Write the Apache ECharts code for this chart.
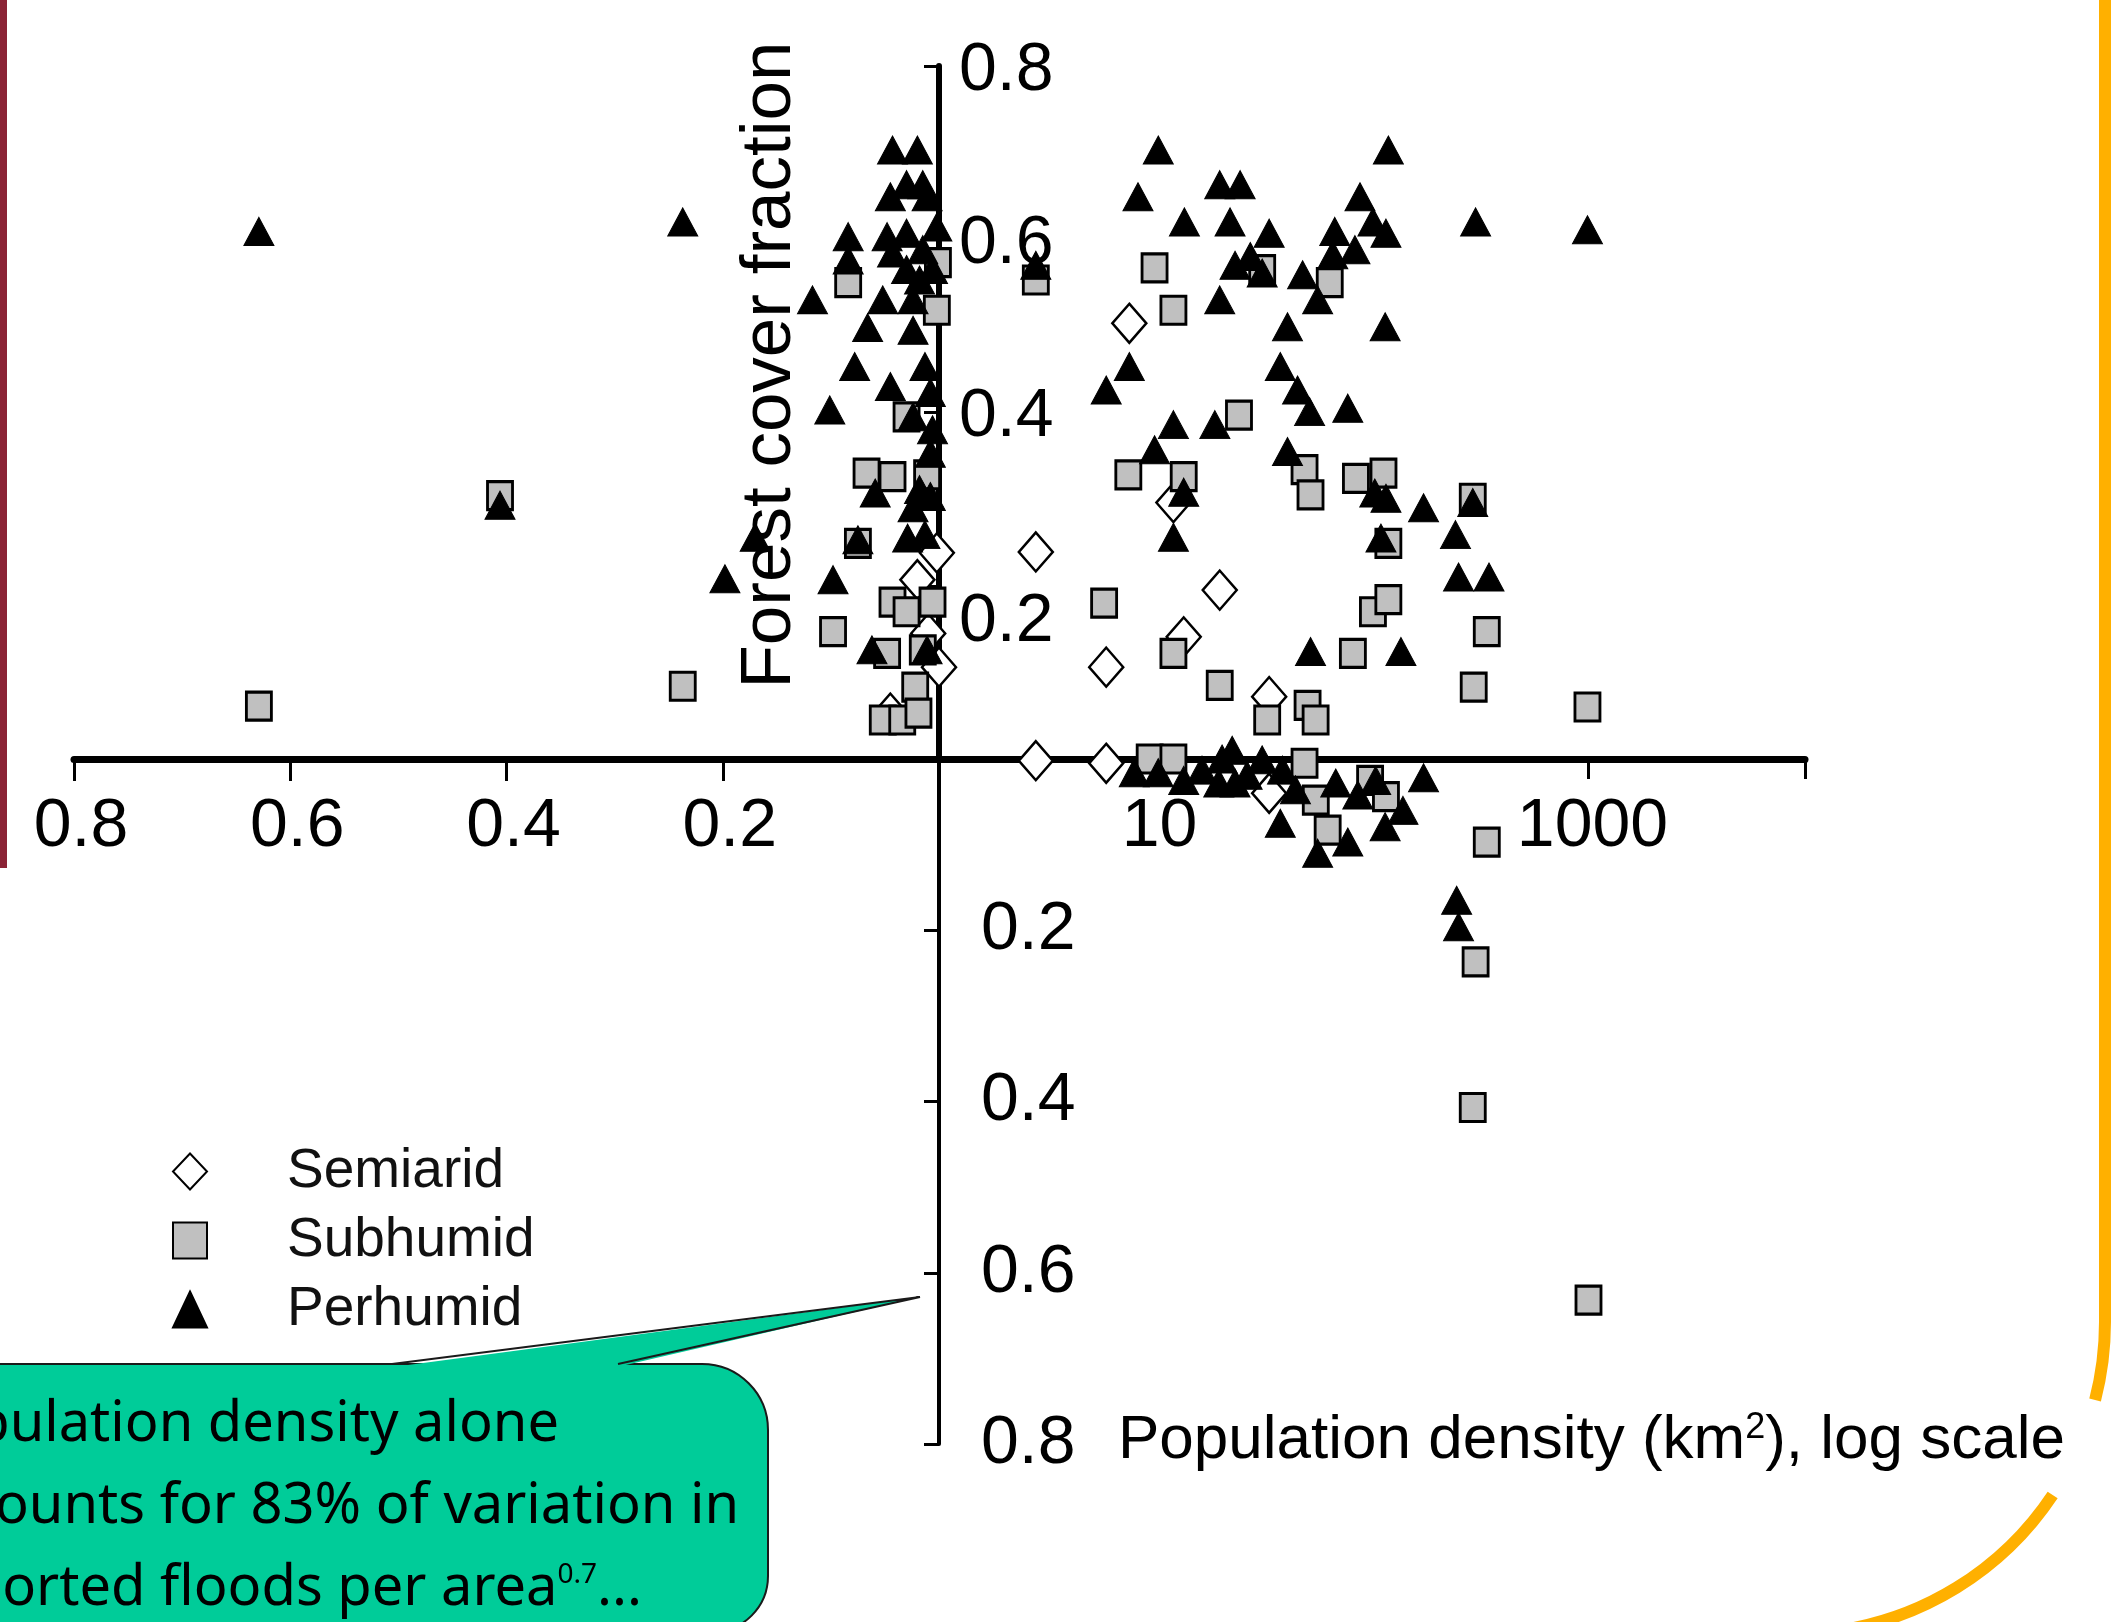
<!DOCTYPE html>
<html>
<head>
<meta charset="utf-8">
<script src="https://cdn.jsdelivr.net/npm/echarts@6/dist/echarts.min.js"></script>
<style>
html,body{margin:0;padding:0;background:#fff;}
#c{width:2112px;height:1622px;}
</style>
</head>
<body>
<div id="c"></div>
<script>
// ---------- DATA ----------
// Upper-left quadrant: [left-axis value, forest cover fraction]
const ulSemiarid = [[0.002,0.238],[0.020,0.207],[0.010,0.145],[0.000,0.106],[0.045,0.053]];
const ulSubhumid = [[0.629,0.061],[0.237,0.084],[0.406,0.304],[0.084,0.550],[0.001,0.573],[0.002,0.518],[0.030,0.395],[0.067,0.330],[0.043,0.326],[0.011,0.328],[0.075,0.249],[0.043,0.181],[0.030,0.170],[0.006,0.181],[0.098,0.147],[0.048,0.122],[0.015,0.126],[0.022,0.083],[0.052,0.045],[0.034,0.045],[0.019,0.053]];
const ulPerhumid = [[0.629,0.609],[0.237,0.620],[0.406,0.293],[0.198,0.208],[0.170,0.256],[0.043,0.703],[0.020,0.703],[0.045,0.649],[0.030,0.663],[0.015,0.663],[0.011,0.649],[0.084,0.603],[0.084,0.576],[0.048,0.603],[0.030,0.607],[0.002,0.614],[0.015,0.588],[0.043,0.584],[0.030,0.565],[0.006,0.565],[0.018,0.553],[0.117,0.530],[0.052,0.530],[0.024,0.530],[0.066,0.498],[0.024,0.495],[0.078,0.453],[0.013,0.453],[0.045,0.430],[0.101,0.403],[0.008,0.423],[0.024,0.395],[0.006,0.380],[0.008,0.353],[0.059,0.307],[0.018,0.311],[0.024,0.290],[0.008,0.303],[0.029,0.255],[0.013,0.259],[0.075,0.253],[0.098,0.207],[0.062,0.126],[0.011,0.126]];
// Upper-right quadrant: [population density, forest cover fraction]
const urSemiarid = [[2.8,0.239],[7.57,0.503],[12.1,0.296],[19.8,0.195],[13.5,0.141],[5.92,0.106],[33.5,0.072]];
const urSubhumid = [[2.8,0.553],[9.9,0.567],[12.1,0.518],[63.8,0.550],[31.1,0.565],[24.3,0.397],[7.49,0.328],[13.5,0.326],[48.8,0.334],[52,0.305],[84.3,0.324],[113,0.330],[119,0.249],[5.79,0.180],[101,0.170],[119,0.184],[12.1,0.122],[81.6,0.122],[19.8,0.085],[32.8,0.045],[50.4,0.062],[54.9,0.045],[292,0.301],[339,0.147],[295,0.083],[989,0.060]];
const urPerhumid = [[2.8,0.570],[10.3,0.703],[119,0.703],[8.3,0.649],[19.8,0.663],[24.6,0.663],[88,0.649],[13.6,0.620],[22.1,0.620],[33.5,0.607],[67.3,0.609],[101,0.620],[116,0.607],[83.4,0.588],[23.3,0.570],[27.4,0.580],[31.1,0.561],[65.9,0.582],[47.8,0.559],[19.8,0.530],[56.1,0.530],[40.7,0.499],[115,0.499],[301,0.620],[989,0.611],[7.57,0.453],[5.92,0.426],[37.7,0.453],[45.3,0.426],[51.5,0.401],[77.3,0.405],[12.1,0.386],[18.8,0.386],[9.9,0.357],[40.7,0.355],[13.5,0.308],[103,0.307],[12.1,0.256],[173,0.290],[110,0.255],[243,0.259],[292,0.296],[251,0.210],[347,0.210],[52.0,0.124],[136,0.124],[116,0.301],[22.6,0.010]];
// Lower-right quadrant: [population density, lower-axis value]
const lrSemiarid = [[2.8,0.002],[5.92,0.005],[33.5,0.040]];
const lrSubhumid = [[9.4,0.0],[12.1,0.0],[48.8,0.005],[55,0.048],[62.4,0.083],[98,0.025],[116,0.044],[339,0.097],[301,0.237],[292,0.407],[1000,0.632]];
const lrPerhumid = [[7.98,0.016],[10.3,0.016],[13.5,0.025],[20.3,0.0],[19.6,0.028],[23.3,0.028],[31.1,0.001],[38.6,0.013],[44.3,0.036],[37.7,0.075],[68,0.028],[56.1,0.110],[77.3,0.097],[104,0.025],[139,0.060],[115,0.079],[173,0.022],[246,0.165],[251,0.196],[16.4,0.013],[26.5,0.019],[86,0.042]];

// Tick values / labels
const leftTicks = [0.2, 0.4, 0.6, 0.8];
const popTicks = [10, 1000, 10000];
const popLabels = [10, 1000];
const yTicks = [0.2, 0.4, 0.6, 0.8];
const classNames = ['Semiarid', 'Subhumid', 'Perhumid'];

// ---------- CHART ----------
const FONT = '"Liberation Sans", Arial, sans-serif';
const NOTO = '"Noto Sans", sans-serif';
const chart = echarts.init(document.getElementById('c'), null, {renderer: 'canvas'});

const styles = {
  Semiarid: {symbol: 'diamond', symbolSize: [34, 39], itemStyle: {color: '#ffffff', borderColor: '#000', borderWidth: 2.5, opacity: 1}},
  Subhumid: {symbol: 'rect', symbolSize: [25, 28], itemStyle: {color: '#c0c0c0', borderColor: '#000', borderWidth: 3, opacity: 1}},
  Perhumid: {symbol: 'triangle', symbolSize: [30, 28], itemStyle: {color: '#000', borderColor: '#000', borderWidth: 1, opacity: 1}}
};
function mk(name, data, gi) {
  const s = styles[name];
  return {
    type: 'scatter', name: name, data: data, xAxisIndex: gi, yAxisIndex: gi,
    clip: false, silent: true, symbol: s.symbol, symbolSize: s.symbolSize,
    itemStyle: s.itemStyle, emphasis: {disabled: true}
  };
}

const lbl = {fontSize: 68, fontFamily: FONT, color: '#000'};
const axLine = (w) => ({show: true, onZero: false, lineStyle: {color: '#000', width: w}});

const option = {
  backgroundColor: '#ffffff',
  animation: false,
  grid: [
    {left: 74, top: 66, width: 865, height: 693, outerBoundsMode: 'none', containLabel: false},
    {left: 939, top: 66, width: 866, height: 693, outerBoundsMode: 'none', containLabel: false},
    {left: 939, top: 759, width: 866, height: 685, outerBoundsMode: 'none', containLabel: false}
  ],
  xAxis: [
    {gridIndex: 0, type: 'value', min: 0, max: 0.8, inverse: true, position: 'bottom',
     axisLine: axLine(7),
     axisTick: {show: true, length: 22, customValues: leftTicks, lineStyle: {color: '#000', width: 3}},
     axisLabel: Object.assign({customValues: leftTicks, margin: 34, formatter: v => v.toFixed(1), padding: [0, 0, 0, 14]}, lbl),
     splitLine: {show: false}},
    {gridIndex: 1, type: 'log', logBase: 10, min: 1, max: 10000, position: 'bottom',
     axisLine: axLine(7),
     axisTick: {show: true, length: 20, customValues: popTicks, lineStyle: {color: '#000', width: 3}},
     axisLabel: Object.assign({customValues: popLabels, margin: 34, formatter: v => String(v), padding: [0, 0, 0, 8]}, lbl),
     splitLine: {show: false}, minorTick: {show: false}},
    {gridIndex: 2, type: 'log', logBase: 10, min: 1, max: 10000, show: false}
  ],
  yAxis: [
    {gridIndex: 0, type: 'value', min: 0, max: 0.8, show: false},
    {gridIndex: 1, type: 'value', min: 0, max: 0.8, position: 'left',
     axisLine: axLine(6),
     axisTick: {show: true, length: 15, customValues: yTicks, lineStyle: {color: '#000', width: 3}},
     axisLabel: {inside: true, margin: 20, customValues: yTicks,
       formatter: v => (Math.abs(v - 0.2) < 1e-9 ? '{low|0.2}' : '{n|' + v.toFixed(1) + '}'),
       rich: {n: Object.assign({padding: [10, 0, 0, 0]}, lbl), low: Object.assign({padding: [72, 0, 0, 0]}, lbl)}},
     splitLine: {show: false}},
    {gridIndex: 2, type: 'value', min: 0, max: 0.8, inverse: true, position: 'left',
     axisLine: axLine(4),
     axisTick: {show: true, length: 15, customValues: yTicks, lineStyle: {color: '#000', width: 3}},
     axisLabel: Object.assign({inside: true, margin: 42, customValues: yTicks, formatter: v => v.toFixed(1)}, lbl),
     splitLine: {show: false}}
  ],
  legend: {
    data: classNames, orient: 'vertical', left: 172, top: 1144, padding: 0,
    itemWidth: 34, itemHeight: 36, itemGap: 14, selectedMode: false,
    itemStyle: {opacity: 1},
    textStyle: {fontSize: 55, fontFamily: FONT, color: '#111', padding: [0, 0, 0, 75]}
  },
  series: [
    mk('Semiarid', ulSemiarid, 0), mk('Semiarid', urSemiarid, 1), mk('Semiarid', lrSemiarid, 2),
    mk('Subhumid', ulSubhumid, 0), mk('Subhumid', urSubhumid, 1), mk('Subhumid', lrSubhumid, 2),
    mk('Perhumid', ulPerhumid, 0), mk('Perhumid', urPerhumid, 1), mk('Perhumid', lrPerhumid, 2)
  ],
  graphic: [
    // slide decorations
    {type: 'rect', shape: {x: 0, y: 0, width: 7, height: 868}, style: {fill: '#8b2335'}, silent: true},
    {type: 'line', shape: {x1: 2105, y1: -10, x2: 2105, y2: 1322}, style: {stroke: '#ffb000', lineWidth: 12}, silent: true},
    {type: 'arc', shape: {cx: 1793, cy: 1322, r: 312, startAngle: 0, endAngle: 0.2527, clockwise: true}, style: {stroke: '#ffb000', lineWidth: 12, fill: null}, silent: true},
    {type: 'arc', shape: {cx: 1793, cy: 1322, r: 312, startAngle: 0.5877, endAngle: 1.45, clockwise: true}, style: {stroke: '#ffb000', lineWidth: 12, fill: null}, silent: true},
    // callout box
    {type: 'rect', z: 50, silent: true, shape: {x: -30, y: 1364, width: 798, height: 268, r: [0, 66, 56, 0]},
     style: {fill: '#00cc99', stroke: '#1a1a1a', lineWidth: 2}},
    {type: 'polygon', z: 51, silent: true, shape: {points: [[393, 1367], [920, 1297], [617, 1367]]},
     style: {fill: '#00cc99'}},
    {type: 'polyline', z: 52, silent: true, shape: {points: [[392, 1364], [920, 1297], [618, 1364]]},
     style: {stroke: '#1a1a1a', lineWidth: 2, fill: null}},
    {type: 'text', x: 559, y: 1425, z: 53, silent: true,
     style: {text: 'Population density alone', fill: '#000', fontSize: 56, fontFamily: NOTO, textAlign: 'right', textVerticalAlign: 'middle'}},
    {type: 'text', x: 739, y: 1507, z: 53, silent: true,
     style: {text: 'accounts for 83% of variation in', fill: '#000', fontSize: 56, fontFamily: NOTO, textAlign: 'right', textVerticalAlign: 'middle'}},
    {type: 'text', x: 642, y: 1589, z: 53, silent: true,
     style: {text: 'reported floods per area{sup|0.7}...', fill: '#000', fontSize: 56, fontFamily: NOTO, textAlign: 'right', textVerticalAlign: 'middle',
       rich: {sup: {fontSize: 28, fontFamily: NOTO, fill: '#000', verticalAlign: 'top'}}}},
    // axis titles
    {type: 'text', x: 770, y: 365, rotation: Math.PI / 2, silent: true,
     style: {text: 'Forest cover fraction', fill: '#000', fontSize: 71, fontFamily: FONT, textAlign: 'center', textVerticalAlign: 'middle'}},
    {type: 'text', x: 1118, y: 1441, silent: true,
     style: {text: 'Population density (km{sup|2}), log scale', fill: '#000', fontSize: 62, fontFamily: FONT, textAlign: 'left', textVerticalAlign: 'middle',
       rich: {sup: {fontSize: 36, fontFamily: FONT, fill: '#000', verticalAlign: 'top'}}}}
  ]
};
chart.setOption(option);
</script>
</body>
</html>
